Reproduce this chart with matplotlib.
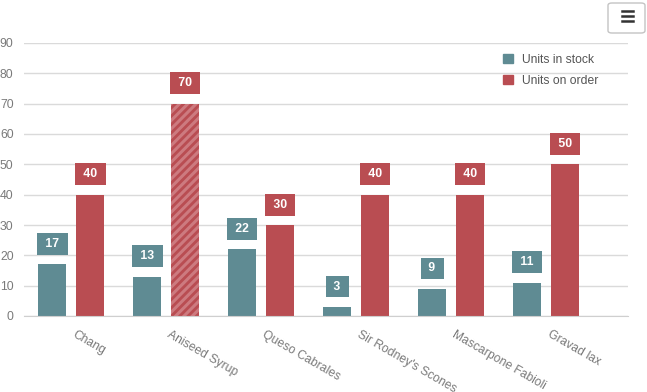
import matplotlib
matplotlib.use("Agg")
import matplotlib.pyplot as plt
from matplotlib.patches import Patch, FancyBboxPatch
from matplotlib.lines import Line2D
from matplotlib.transforms import ScaledTranslation

categories = ["Chang", "Aniseed Syrup", "Queso Cabrales", "Sir Rodney's Scones",
              "Mascarpone Fabioli", "Gravad lax"]
units_in_stock = [17, 13, 22, 3, 9, 11]
units_on_order = [40, 70, 30, 40, 40, 50]
hatched_order = [False, True, False, False, False, False]
y_ticks = [0, 10, 20, 30, 40, 50, 60, 70, 80, 90]

TEAL = "#5f8b93"
RED = "#b94d52"
LIGHT_RED = "#cd7a7f"
GRID = "#dadada"
TXT = "#7a7a7a"

plt.rcParams['font.family'] = ['Liberation Sans', 'DejaVu Sans']
plt.rcParams['hatch.linewidth'] = 2.2
plt.rcParams['hatch.color'] = LIGHT_RED

W, H = 647, 392
fig = plt.figure(figsize=(W / 100, H / 100), dpi=100)
ax = fig.add_axes([24 / W, (H - 316) / H, (628 - 24) / W, (316 - 43) / H])

ppu = 95.0  # pixels per category
xr = -0.5 + (628 - 23.5) / ppu
ax.set_xlim(-0.5, xr)
ax.set_ylim(0, 90)

bw = 28 / ppu
off = 19 / ppu
x = list(range(len(categories)))

for i in x:
    ax.bar(i - off, units_in_stock[i], width=bw, color=TEAL, zorder=3)
    if hatched_order[i]:
        ax.bar(i + off, units_on_order[i], width=bw, color=RED, hatch='////',
               edgecolor=LIGHT_RED, linewidth=0, zorder=3)
    else:
        ax.bar(i + off, units_on_order[i], width=bw, color=RED, zorder=3)

fs_val = 8.8
for i in x:
    for xv, v, c in ((i - off, units_in_stock[i], TEAL), (i + off, units_on_order[i], RED)):
        ax.annotate(f" {v} ", (xv, v), xytext=(0, 10.3), textcoords='offset points',
                    ha='center', va='bottom', color='white', fontweight='bold',
                    fontsize=fs_val, zorder=5,
                    bbox=dict(boxstyle='square,pad=0.4', fc=c, ec='none'))

ax.set_yticks(y_ticks)
ax.set_yticklabels([str(t) for t in y_ticks])
ax.grid(axis='y', color=GRID, linewidth=1, zorder=0)
ax.set_axisbelow(True)
for s in ['top', 'right', 'left']:
    ax.spines[s].set_visible(False)
ax.spines['bottom'].set_color("#cfcfcf")
ax.spines['bottom'].set_zorder(4)
ax.tick_params(axis='y', length=0, pad=7.5, labelsize=8.8, labelcolor=TXT)
ax.tick_params(axis='x', length=0, pad=9, labelsize=8.7, labelcolor=TXT)
ax.set_xticks(x)
ax.set_xticklabels(categories, rotation=-30, ha='left', rotation_mode='anchor')
shift = ScaledTranslation(5 / 100, 0, fig.dpi_scale_trans)
for lab in ax.get_xticklabels():
    lab.set_transform(lab.get_transform() + shift)

handles = [Patch(color=TEAL, label="Units in stock"), Patch(color=RED, label="Units on order")]
leg = fig.legend(handles=handles, loc='upper left', bbox_to_anchor=(498 / W, 1 - 49 / H),
                 frameon=False, fontsize=8.7, handlelength=0.8, handleheight=0.8,
                 handletextpad=0.8, labelspacing=0.75, borderaxespad=0)
for t in leg.get_texts():
    t.set_color("#555555")

# menu button
btn = FancyBboxPatch((608 / W, 1 - 33 / H), 37 / W, 30 / H,
                     boxstyle="round,pad=0,rounding_size=0.006",
                     transform=fig.transFigure, fc='white', ec='#c4c4c4', lw=1)
fig.patches.append(btn)
for yy in (11, 16, 21):
    fig.add_artist(Line2D([622 / W, 633 / W], [1 - yy / H, 1 - yy / H],
                          transform=fig.transFigure, color='#333333', lw=1.8))

fig.savefig("out.png", dpi=100)
